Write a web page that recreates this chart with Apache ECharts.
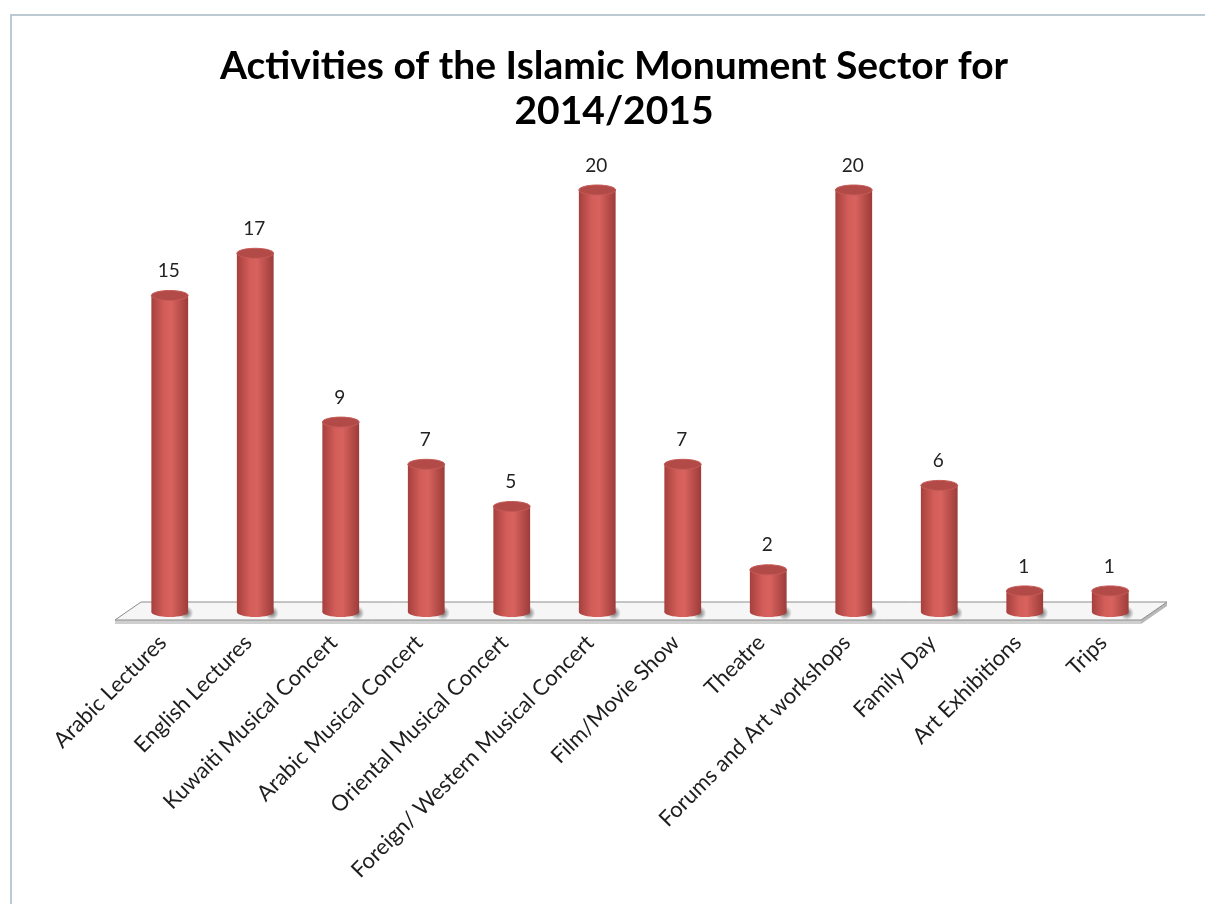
<!DOCTYPE html>
<html>
<head>
<meta charset="utf-8">
<script src="https://cdn.jsdelivr.net/npm/echarts@6/dist/echarts.min.js"></script>
<style>
  html, body { margin: 0; padding: 0; background: #fff; }
  #chart { width: 1205px; height: 904px; }
  #frame {
    position: absolute; left: 10px; top: 14px; right: 0; bottom: 0;
    border-left: 2px solid #bccbd3; border-top: 2px solid #bccbd3;
    pointer-events: none;
  }
</style>
</head>
<body>
<div id="chart"></div>
<div id="frame"></div>
<script>
// activity names and counts
const categories = [
  'Arabic Lectures',
  'English Lectures',
  'Kuwaiti Musical Concert',
  'Arabic Musical Concert',
  'Oriental Musical Concert',
  'Foreign/ Western Musical Concert',
  'Film/Movie Show',
  'Theatre',
  'Forums and Art workshops',
  'Family Day',
  'Art Exhibitions',
  'Trips'
]
const values = [15, 17, 9, 7, 5, 20, 7, 2, 20, 6, 1, 1]
const titleText = 'Activities of the Islamic Monument Sector for\n2014/2015'

const chart = echarts.init(document.getElementById('chart'))

// the white slab the cylinders stand on
const renderFloor = (params, api) => {
  const cs = params.coordSys
  const L = cs.x, R = cs.x + cs.width
  const B = api.coord([0, 0])[1]
  return {
    type: 'group',
    children: [
      {type: 'polygon', shape: {points: [[L - 12, B + 8], [R - 12, B + 8], [R - 12, B + 12], [L - 12, B + 12]]},
        style: {fill: '#cfcfcf'}},
      {type: 'polygon', shape: {points: [[R - 12, B + 8], [R + 14, B - 10], [R + 14, B - 6], [R - 12, B + 12]]},
        style: {fill: '#b8b8b8'}},
      {type: 'polygon', shape: {points: [[L + 14, B - 10], [R + 14, B - 10], [R - 12, B + 8], [L - 12, B + 8]]},
        style: {fill: '#f6f6f6', stroke: '#8c8c8c', lineWidth: 1}}
    ]
  }
}

const renderBar = (params, api) => {
  const i = api.value(0)
  const v = api.value(1)
  const top = api.coord([i, v])
  const base = api.coord([i, 0])
  const w = api.size([1, 0])[0] * 0.43
  const rx = w / 2, ry = 5
  const body = new echarts.graphic.LinearGradient(0, 0, 1, 0, [
    {offset: 0, color: '#a5403d'},
    {offset: 0.35, color: '#d35d59'},
    {offset: 0.55, color: '#d8625e'},
    {offset: 1, color: '#9c3c39'}
  ])
  const shade = new echarts.graphic.RadialGradient(0.5, 0.5, 0.5, [
    {offset: 0, color: 'rgba(70,70,70,0.8)'},
    {offset: 1, color: 'rgba(70,70,70,0)'}
  ])
  return {
    type: 'group',
    children: [
      {type: 'ellipse', shape: {cx: base[0] + rx * 0.9, cy: base[1] + 1, rx: w, ry: 7},
        style: {fill: shade}},
      {type: 'ellipse', shape: {cx: base[0], cy: base[1], rx: rx, ry: ry}, style: {fill: body}},
      {type: 'rect', shape: {x: base[0] - rx, y: top[1], width: w, height: base[1] - top[1]}, style: {fill: body}},
      {type: 'ellipse', shape: {cx: top[0], cy: top[1], rx: rx, ry: ry},
        style: {fill: '#b24a47', stroke: '#c75a56', lineWidth: 1}},
      {type: 'text', style: {
        text: String(v), x: top[0] - 1, y: top[1] - ry - 10,
        align: 'center', verticalAlign: 'bottom',
        font: '19px Lato', fill: '#222'
      }}
    ]
  }
}

const option = {
  animation: false,
  backgroundColor: '#fff',
  graphic: [{
    type: 'text',
    x: 614,
    y: 44,
    style: {
      text: titleText, align: 'center', verticalAlign: 'top',
      font: 'bold 39px Lato', lineHeight: 45, fill: '#000'
    }
  }],
  grid: {left: 127, right: 52, top: 190, bottom: 292},
  xAxis: {
    type: 'category',
    data: categories,
    axisLine: {show: false},
    axisTick: {show: false},
    axisLabel: {interval: 0, rotate: 45, margin: 20, padding: [0, 10, 0, 0],
      fontFamily: 'Lato', fontSize: 22, color: '#1e1e1e'}
  },
  yAxis: {type: 'value', min: 0, max: 20, show: false, splitLine: {show: false}},
  series: [
    {type: 'custom', z: 1, clip: false, data: [[0, 0]], renderItem: renderFloor, silent: true},
    {type: 'custom', z: 2, clip: false, data: values.map((v, i) => [i, v]),
      encode: {x: 0, y: 1}, renderItem: renderBar}
  ]
}

chart.setOption(option)
</script>
</body>
</html>
